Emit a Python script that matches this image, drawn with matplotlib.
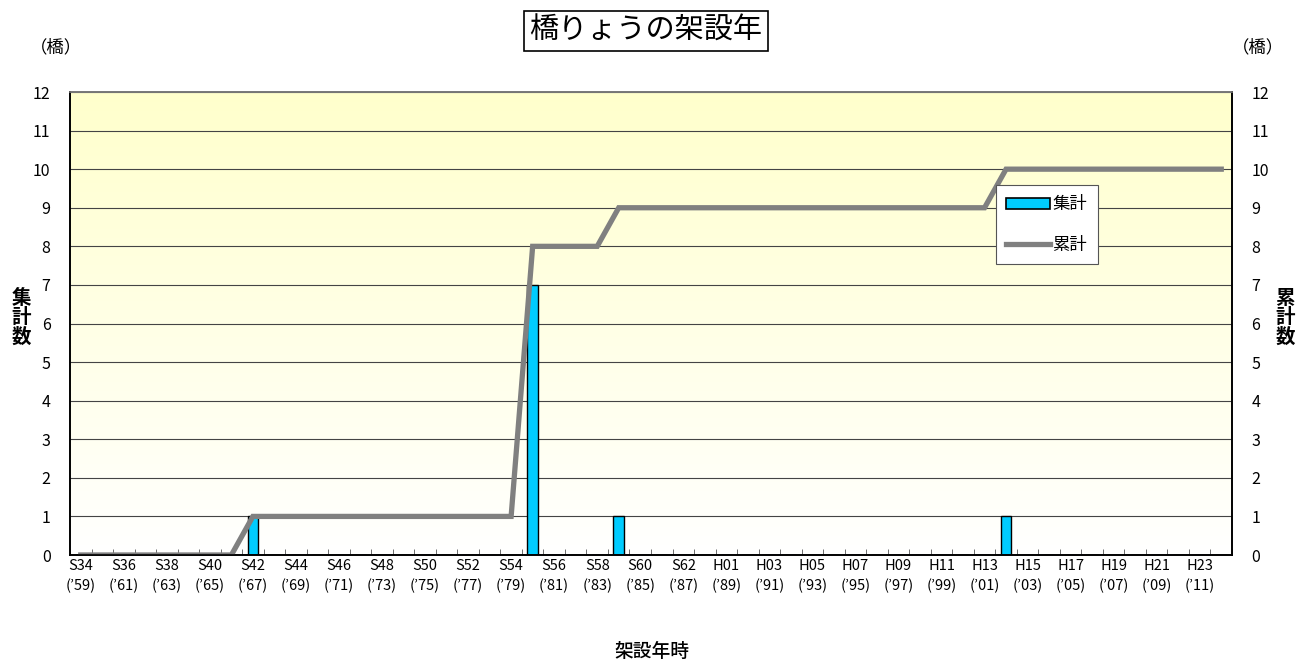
import numpy as np
import matplotlib
matplotlib.use("Agg")
import matplotlib.pyplot as plt
from matplotlib.patches import Patch
from matplotlib.lines import Line2D

plt.rcParams['font.family'] = ['Noto Sans CJK JP', 'DejaVu Sans']

# data
years = list(range(1959, 2013))
counts = [0] * len(years)
built = {1967: 1, 1980: 7, 1984: 1, 2002: 1}
for y, n in built.items():
    counts[years.index(y)] = n
cumulative = np.cumsum(counts)


def era_label(y):
    if y < 1989:
        return f"S{y - 1925:02d}\n(’{y % 100:02d})"
    return f"H{y - 1988:02d}\n(’{y % 100:02d})"


tick_labels = [era_label(y) for y in years]


def main():
    fig = plt.figure(figsize=(13.08, 6.6), dpi=100)
    ax = fig.add_axes([70 / 1308, 1 - 555 / 660, 1162 / 1308, 463 / 660])

    x = np.arange(len(years))

    # yellow -> white gradient background
    grad = np.linspace(0, 1, 256).reshape(-1, 1)
    top = np.array([1.0, 1.0, 0.80])
    bottom = np.array([1.0, 1.0, 1.0])
    img = top * (1 - grad[..., None]) + bottom * grad[..., None]
    img = img.reshape(256, 1, 3)
    ax.imshow(img, extent=[0, 1, 0, 1], transform=ax.transAxes,
              aspect='auto', zorder=0)

    ax.set_xlim(-0.5, len(years) - 0.5)
    ax.set_ylim(0, 12)
    for v in range(1, 13):
        ax.axhline(v, color='#444444', lw=0.8, zorder=1)

    ax.bar(x, counts, width=0.5, color='#00CCFF', edgecolor='black',
           linewidth=1.0, zorder=2)
    ax.plot(x, cumulative, color='#808080', lw=3.8, zorder=3,
            solid_joinstyle='miter')

    ax.set_xticks(x[::2])
    ax.set_xticklabels(tick_labels[::2], fontsize=10.5, linespacing=1.45)
    ax.set_xticks(np.arange(-0.5, len(years), 1), minor=True)
    ax.tick_params(axis='x', which='major', length=0, pad=3)
    ax.tick_params(axis='x', which='minor', direction='in', length=4,
                   color='#555555')
    ax.set_yticks(range(0, 13))
    ax.tick_params(axis='y', labelsize=11.5, length=0, pad=14)

    ax2 = ax.twinx()
    ax2.set_ylim(0, 12)
    ax2.set_yticks(range(0, 13))
    ax2.tick_params(axis='y', labelsize=11.5, length=0, pad=14)

    for a in (ax, ax2):
        for s in a.spines.values():
            s.set_color('black')
            s.set_linewidth(1.2)
        a.spines['top'].set_color('#777777')

    handles = [Patch(facecolor='#00CCFF', edgecolor='black', lw=1.2),
               Line2D([0], [0], color='#808080', lw=3.8)]
    leg = ax.legend(handles, ['集計', '累計'], loc='upper left',
                    bbox_to_anchor=(926 / 1162, 1 - 93 / 463),
                    fontsize=12.5, fancybox=False, framealpha=1,
                    edgecolor='#555555', handlelength=2.5, handleheight=0.6,
                    handletextpad=0.15, borderpad=0.6, labelspacing=1.3,
                    borderaxespad=0)
    leg.get_frame().set_linewidth(0.8)
    leg.set_zorder(5)

    fig.text(646 / 1308, 1 - 31 / 660, '橋りょうの架設年', fontsize=21,
             ha='center', va='center',
             bbox=dict(boxstyle='square,pad=0.18', facecolor='white',
                       edgecolor='black', linewidth=1.2))
    fig.text(56 / 1308, 1 - 47 / 660, '（橋）', fontsize=12.5,
             ha='center', va='center')
    fig.text(1258 / 1308, 1 - 47 / 660, '（橋）', fontsize=12.5,
             ha='center', va='center')
    fig.text(21 / 1308, 1 - 318 / 660, '集\n計\n数', fontsize=14,
             fontweight='bold', ha='center', va='center', linespacing=1.0)
    fig.text(1285 / 1308, 1 - 318 / 660, '累\n計\n数', fontsize=14,
             fontweight='bold', ha='center', va='center', linespacing=1.0)
    fig.text(652 / 1308, 1 - 651 / 660, '架設年時', fontsize=13.5,
             fontweight='medium', ha='center', va='center')

    fig.savefig('out.png', dpi=100)


if __name__ == "__main__":
    main()
